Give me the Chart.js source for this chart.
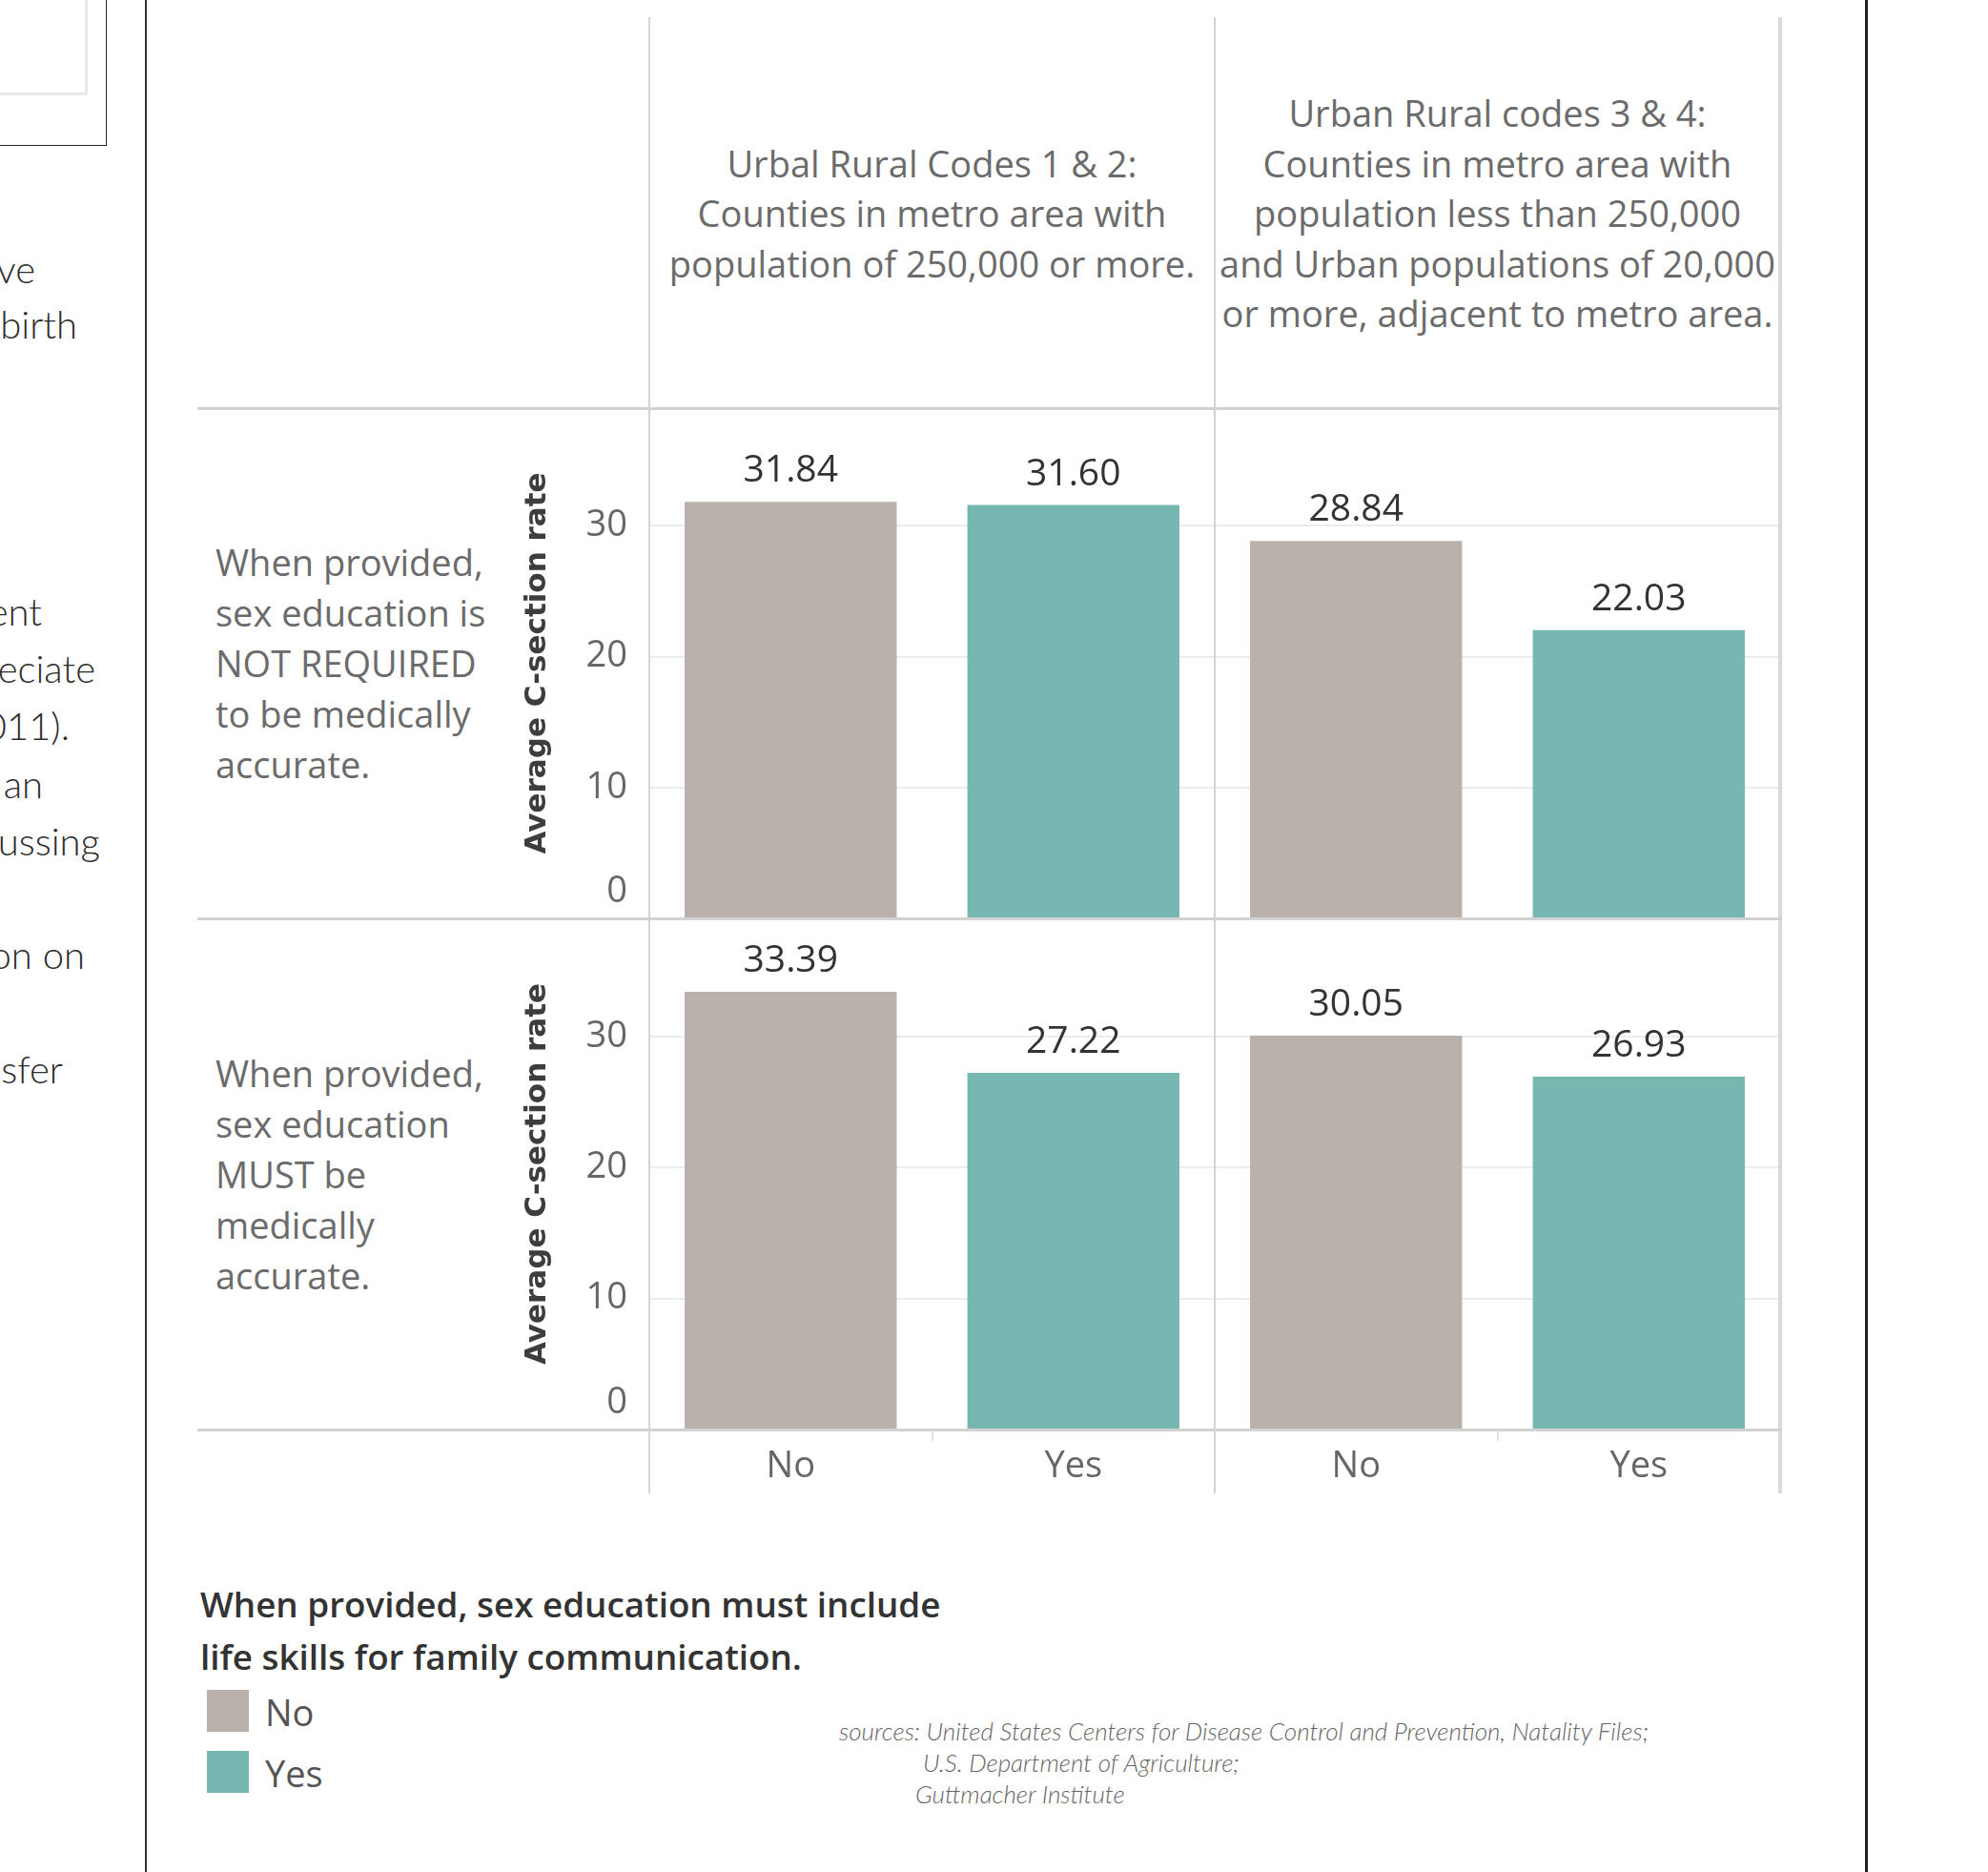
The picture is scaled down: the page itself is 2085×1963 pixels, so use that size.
<!DOCTYPE html>
<html>
<head>
<meta charset="utf-8">
<title>Average C-section rate and sex education requirements</title>
<script src="https://cdn.jsdelivr.net/npm/chart.js@4.4.1/dist/chart.umd.min.js"></script>
<style>
  html, body { margin: 0; padding: 0; background: #fff; }
  #page { position: relative; width: 2085px; height: 1963px; overflow: hidden; font-family: 'Open Sans', sans-serif; }
  .frag { position: absolute; white-space: nowrap; text-align: right; font-family: Lato, sans-serif; font-weight: 300; font-size: 40px; line-height: 50px; color: #2b2b2b; }
  .line { position: absolute; }
  .hdr { position: absolute; top: 19px; width: 593px; height: 409px; display: flex; align-items: center; justify-content: center; text-align: center; white-space: nowrap; font-size: 38px; line-height: 52.5px; color: #6b6b6b; }
  .rowlab { position: absolute; left: 226px; display: flex; align-items: center; white-space: nowrap; font-size: 38px; line-height: 53px; color: #6b6b6b; }
  canvas { position: absolute; }
  .legtitle { position: absolute; left: 210px; top: 1655px; font-weight: 600; font-size: 36.8px; line-height: 55px; color: #333; white-space: nowrap; }
  .swatch { position: absolute; left: 217px; width: 44px; height: 44px; }
  .leglab { position: absolute; left: 278px; font-size: 38px; line-height: 50px; color: #555; }
  .src { position: absolute; white-space: nowrap; font-family: Lato, sans-serif; font-style: italic; font-weight: 300; font-size: 26px; line-height: 30px; color: #666; }
</style>
</head>
<body>
<div id="page">
  <!-- bits of the page text cut off on the left -->
  <div class="frag" style="right:2048px; top:257px">ve</div>
  <div class="frag" style="right:2004px; top:315px">birth</div>
  <div class="frag" style="right:2041px; top:616px">ent</div>
  <div class="frag" style="right:1985px; top:676px">eciate</div>
  <div class="frag" style="right:2012px; top:736px">011).</div>
  <div class="frag" style="right:2040px; top:797px">an</div>
  <div class="frag" style="right:1980px; top:857px">ussing</div>
  <div class="frag" style="right:1996px; top:976px">on on</div>
  <div class="frag" style="right:2019px; top:1096px">sfer</div>

  <div class="line" style="left:-10px; top:-10px; width:120px; height:161px; border:1.5px solid #222;"></div>
  <div class="line" style="left:-10px; top:-10px; width:96px; height:104px; border:3px solid #e8e8e8;"></div>
  <div class="line" style="left:152px; top:0; width:2px; height:1963px; background:#333;"></div>
  <div class="line" style="left:1956px; top:0; width:3px; height:1963px; background:#222;"></div>

  <div class="hdr" style="left:681px">Urbal Rural Codes 1 &amp; 2:<br>Counties in metro area with<br>population of 250,000 or more.</div>
  <div class="hdr" style="left:1274px">Urban Rural codes 3 &amp; 4:<br>Counties in metro area with<br>population less than 250,000<br>and Urban populations of 20,000<br>or more, adjacent to metro area.</div>

  <div class="rowlab" style="top:428px; height:535px">When provided,<br>sex education is<br>NOT REQUIRED<br>to be medically<br>accurate.</div>
  <div class="rowlab" style="top:963px; height:536px">When provided,<br>sex education<br>MUST be<br>medically<br>accurate.</div>

  <canvas id="rowNotRequired" width="1337" height="615" style="left:530px; top:388px"></canvas>
  <canvas id="rowMustBe" width="1337" height="657" style="left:530px; top:923px"></canvas>

  <div class="line" style="left:680px; top:18px; width:2px; height:1548px; background:#d4d4d4;"></div>
  <div class="line" style="left:1273px; top:18px; width:2px; height:1548px; background:#d4d4d4;"></div>
  <div class="line" style="left:1865px; top:18px; width:4px; height:1548px; background:#d9d9d9;"></div>
  <div class="line" style="left:207px; top:427px; width:1662px; height:3px; background:#d2d2d2;"></div>
  <div class="line" style="left:207px; top:962px; width:1662px; height:3px; background:#d2d2d2;"></div>
  <div class="line" style="left:207px; top:1498px; width:1662px; height:3px; background:#d2d2d2;"></div>

  <div class="legtitle">When provided, sex education must include<br>life skills for family communication.</div>
  <div class="swatch" style="top:1772px; background:#bab0ac"></div>
  <div class="swatch" style="top:1836px; background:#76b7b2"></div>
  <div class="leglab" style="top:1770px">No</div>
  <div class="leglab" style="top:1834px">Yes</div>

  <div class="src" style="left:880px; top:1800px">sources: United States Centers for Disease Control and Prevention, Natality Files;</div>
  <div class="src" style="left:968px; top:1833px">U.S. Department of Agriculture;</div>
  <div class="src" style="left:960px; top:1866px">Guttmacher Institute</div>
</div>

<script>
// life skills for family communication: No / Yes, within each urban-rural column
const categories = ['No', 'Yes'];
const columns = ['Urbal Rural Codes 1 & 2', 'Urban Rural codes 3 & 4'];
// average C-section rate, order: col 1 No, col 1 Yes, col 2 No, col 2 Yes
const notRequiredValues = [31.84, 31.60, 28.84, 22.03];
const mustBeValues = [33.39, 27.22, 30.05, 26.93];
const yTicks = [0, 10, 20, 30];
const yMax = 39;

const categoryColors = { No: '#bab0ac', Yes: '#76b7b2' };
const xLabels = columns.flatMap(() => categories);
const barColors = xLabels.map(c => categoryColors[c]);

Chart.defaults.font.family = "'Open Sans', sans-serif";

const valueLabels = {
  id: 'valueLabels',
  afterDatasetsDraw(chart) {
    const ctx = chart.ctx;
    const meta = chart.getDatasetMeta(0);
    ctx.save();
    ctx.font = "39px 'Open Sans'";
    ctx.fillStyle = '#333';
    ctx.textAlign = 'center';
    ctx.textBaseline = 'middle';
    meta.data.forEach((bar, i) => {
      ctx.fillText(chart.data.datasets[0].data[i].toFixed(2), bar.x, bar.y - 32);
    });
    ctx.restore();
  }
};

function makeRow(id, values, showX) {
  return new Chart(document.getElementById(id), {
    type: 'bar',
    data: {
      labels: xLabels,
      datasets: [{
        data: values,
        backgroundColor: barColors,
        barPercentage: 0.75,
        categoryPercentage: 1
      }]
    },
    options: {
      responsive: false,
      animation: false,
      layout: { padding: { top: 40, bottom: showX ? 14 : 40, left: 0, right: 0 } },
      plugins: { legend: { display: false }, tooltip: { enabled: false } },
      scales: {
        x: {
          display: showX,
          border: { display: false },
          grid: {
            offset: true,
            drawOnChartArea: false,
            tickLength: 12,
            lineWidth: 2,
            color: c => (c.index % 2 === 1 ? '#e3e3e3' : 'rgba(0,0,0,0)')
          },
          ticks: { color: '#666', font: { size: 38 }, padding: 4 },
          afterFit: s => {
            if (!showX) return;
            s.height = 67; s.paddingLeft = 0; s.paddingRight = 0;
          }
        },
        y: {
          min: 0,
          max: yMax,
          border: { display: false },
          afterBuildTicks: s => { s.ticks = yTicks.map(v => ({ value: v })); },
          grid: { color: '#ececec', lineWidth: 2, drawTicks: false },
          ticks: {
            color: '#666',
            font: { size: 38, lineHeight: 1.45 },
            padding: 23,
            // the 0 label sits above the base line, as in the original
            callback: v => (v === 0 ? ['0', ''] : String(v))
          },
          title: {
            display: true,
            text: 'Average C-section rate',
            color: '#3d3d3d',
            font: { family: "'DejaVu Sans'", weight: 'bold', size: 31 },
            padding: { top: 15, bottom: 0 }
          },
          afterFit: s => { s.width = 151; s.paddingTop = 0; s.paddingBottom = 0; }
        }
      }
    },
    plugins: [valueLabels]
  });
}

makeRow('rowNotRequired', notRequiredValues, false);
makeRow('rowMustBe', mustBeValues, true);
</script>
</body>
</html>
